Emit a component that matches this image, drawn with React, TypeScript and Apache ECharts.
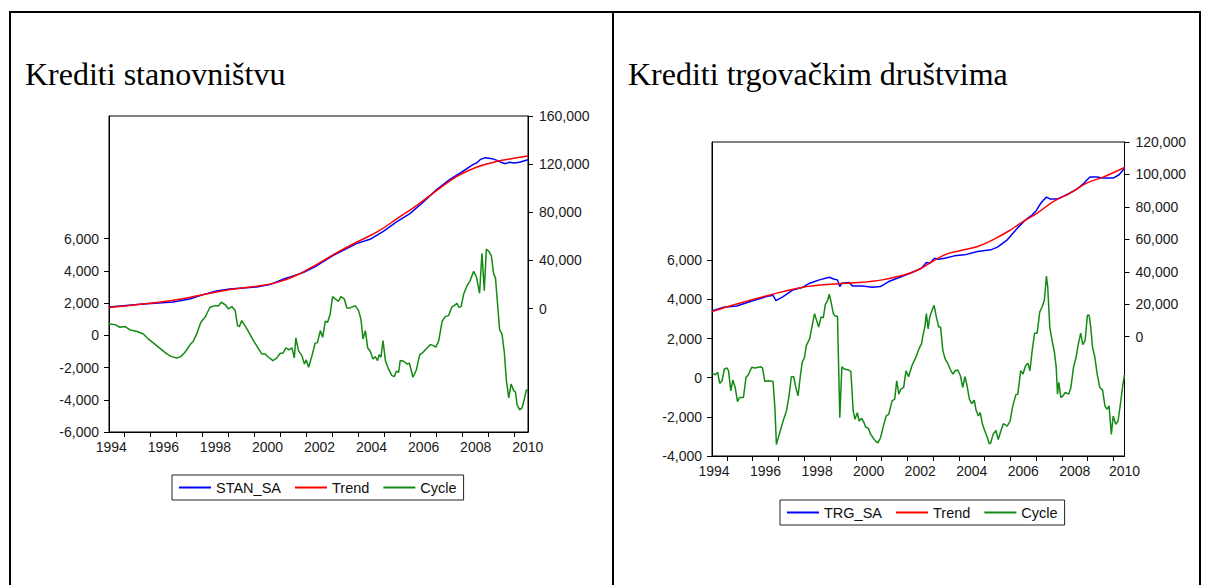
import React, { useEffect, useRef } from "react";
import * as echarts from "echarts";

// ---------- Panel 1: Krediti stanovništvu ----------
const stanTitle = "Krediti stanovništvu";
const stanNames = ["STAN_SA", "Trend", "Cycle"];
const stanYears = [1994.41, 1995.6, 1996.87, 1997.51, 1998.03, 1998.54, 1999.05, 1999.56, 2000.08, 2000.59, 2001.1, 2001.87, 2002.38, 2003.03, 2003.41, 2003.92, 2004.44, 2004.95, 2005.46, 2005.97, 2006.49, 2007.0, 2007.51, 2008.03, 2008.41, 2008.54, 2008.67, 2008.87, 2009.13, 2009.32, 2009.47, 2009.64, 2009.8, 2009.99, 2010.18, 2010.51];
const stanValues = [1380, 3600, 5540, 8030, 11630, 14670, 16330, 17160, 17990, 19930, 24360, 29900, 35430, 44290, 48440, 53980, 57570, 64220, 71970, 78890, 88580, 98820, 107400, 114320, 119850, 120960, 123730, 125390, 124560, 123170, 121510, 120410, 121510, 120960, 121510, 123730];
const stanTrendYears = [1994.41, 1995.6, 1996.88, 1997.91, 1999.06, 2000.08, 2000.85, 2001.62, 2002.4, 2003.17, 2003.94, 2004.71, 2005.48, 2006.24, 2007.01, 2007.78, 2008.55, 2009.32, 2009.96, 2010.51];
const stanTrendValues = [830, 3600, 6920, 11070, 15780, 18550, 21590, 27680, 36810, 46500, 55360, 63660, 74740, 85810, 98260, 109890, 117640, 122350, 124840, 126770];
const stanCycleYears = [1994.41, 1994.64, 1994.83, 1995.03, 1995.22, 1995.47, 1995.73, 1995.92, 1996.24, 1996.63, 1996.82, 1997.01, 1997.17, 1997.33, 1997.53, 1997.65, 1997.78, 1997.94, 1998.1, 1998.29, 1998.49, 1998.62, 1998.72, 1998.87, 1999.0, 1999.13, 1999.26, 1999.35, 1999.42, 1999.51, 1999.71, 1999.96, 2000.28, 2000.41, 2000.54, 2000.71, 2000.86, 2000.99, 2001.09, 2001.21, 2001.33, 2001.44, 2001.53, 2001.59, 2001.69, 2001.82, 2001.92, 2001.99, 2002.08, 2002.21, 2002.33, 2002.42, 2002.53, 2002.62, 2002.72, 2002.81, 2002.91, 2003.0, 2003.1, 2003.23, 2003.32, 2003.45, 2003.55, 2003.68, 2003.87, 2004.0, 2004.09, 2004.17, 2004.26, 2004.35, 2004.45, 2004.55, 2004.64, 2004.73, 2004.79, 2004.86, 2004.94, 2005.03, 2005.15, 2005.28, 2005.37, 2005.45, 2005.54, 2005.6, 2005.73, 2005.86, 2005.95, 2006.01, 2006.09, 2006.22, 2006.35, 2006.47, 2006.63, 2006.76, 2006.88, 2006.97, 2007.08, 2007.21, 2007.33, 2007.46, 2007.59, 2007.68, 2007.78, 2007.85, 2007.94, 2008.04, 2008.17, 2008.29, 2008.42, 2008.53, 2008.65, 2008.74, 2008.83, 2008.91, 2009.0, 2009.1, 2009.19, 2009.26, 2009.35, 2009.42, 2009.51, 2009.6, 2009.68, 2009.77, 2009.86, 2009.96, 2010.03, 2010.09, 2010.19, 2010.28, 2010.37, 2010.45, 2010.51];
const stanCycleValues = [703, 660, 496, 537, 330, 248, 83, -227, -641, -1158, -1324, -1406, -1324, -1055, -579, -372, 83, 806, 1117, 1737, 1840, 1820, 2047, 1903, 1634, 1778, 1530, 600, 537, 910, 393, -331, -1158, -1158, -1365, -1572, -1406, -1117, -1117, -786, -910, -786, -1406, -165, -951, -1262, -1778, -1530, -1985, -1262, -496, -455, 290, -124, 868, 806, 1323, 2399, 2254, 2109, 2399, 2254, 1696, 1696, 1840, 1530, 1013, -227, 290, -786, -993, -1468, -1324, -1572, -1199, -1365, -331, -1572, -2089, -2502, -2564, -2233, -2295, -1572, -1613, -1778, -1737, -2089, -2606, -2151, -1199, -1075, -786, -579, -641, -744, -331, 868, 1158, 1220, 1778, 1840, 1985, 1737, 1778, 2564, 3081, 3392, 3971, 3598, 2606, 5087, 2771, 5356, 5211, 4943, 3805, 3557, 1737, 331, 83, -1055, -2812, -3888, -3019, -3433, -3536, -4301, -4632, -4508, -3950, -3392, -3433];

// ---------- Panel 2: Krediti trgovačkim društvima ----------
const trgTitle = "Krediti trgovačkim društvima";
const trgNames = ["TRG_SA", "Trend", "Cycle"];
const trgYears = [1994.42, 1994.87, 1995.38, 1996.03, 1996.54, 1996.79, 1996.9, 1997.18, 1997.56, 1997.95, 1998.21, 1998.59, 1998.97, 1999.17, 1999.29, 1999.38, 1999.46, 1999.74, 1999.87, 2000.26, 2000.64, 2000.96, 2001.28, 2001.79, 2002.17, 2002.55, 2002.74, 2002.87, 2003.06, 2003.19, 2003.45, 2003.83, 2004.22, 2004.73, 2005.24, 2005.5, 2005.88, 2006.27, 2006.59, 2006.85, 2007.01, 2007.14, 2007.27, 2007.4, 2007.55, 2007.81, 2008.19, 2008.58, 2008.83, 2009.09, 2009.35, 2009.6, 2009.99, 2010.22, 2010.43];
const trgValues = [15850, 18110, 18930, 22230, 24700, 25520, 22230, 24700, 28810, 30460, 32930, 34990, 36630, 35400, 34990, 30870, 32930, 33340, 31280, 31280, 30460, 30870, 33960, 37040, 39510, 42190, 45690, 45280, 48360, 47750, 48360, 49800, 50420, 52480, 53510, 55160, 59680, 66890, 72030, 75120, 77800, 81290, 83970, 86030, 84790, 84790, 87470, 90960, 94260, 98370, 98370, 97760, 97760, 99810, 103800];
const trgTrendYears = [1994.42, 1995.38, 1996.67, 1997.95, 1999.23, 2000.13, 2001.03, 2001.75, 2002.37, 2003.45, 2004.09, 2004.73, 2005.37, 2006.01, 2006.4, 2007.04, 2007.68, 2008.32, 2008.96, 2009.6, 2010.43];
const trgTrendValues = [15435, 20170, 25725, 30460, 32520, 33340, 34990, 37500, 40750, 50420, 53100, 55570, 60090, 65860, 69970, 76150, 83350, 88490, 94670, 98370, 104300];
const trgCycleYears = [1994.42, 1994.55, 1994.64, 1994.72, 1994.81, 1994.9, 1995.0, 1995.06, 1995.15, 1995.23, 1995.32, 1995.41, 1995.49, 1995.64, 1995.74, 1995.83, 1995.96, 1996.09, 1996.31, 1996.38, 1996.47, 1996.6, 1996.79, 1996.86, 1996.92, 1997.03, 1997.18, 1997.31, 1997.41, 1997.5, 1997.59, 1997.67, 1997.76, 1997.85, 1997.92, 1998.01, 1998.08, 1998.21, 1998.31, 1998.4, 1998.46, 1998.56, 1998.65, 1998.74, 1998.82, 1998.91, 1998.97, 1999.04, 1999.13, 1999.21, 1999.29, 1999.38, 1999.46, 1999.55, 1999.72, 1999.81, 1999.9, 1999.97, 2000.06, 2000.13, 2000.23, 2000.32, 2000.38, 2000.49, 2000.58, 2000.67, 2000.77, 2000.86, 2000.96, 2001.09, 2001.18, 2001.28, 2001.41, 2001.51, 2001.59, 2001.67, 2001.74, 2001.86, 2001.95, 2002.05, 2002.18, 2002.27, 2002.36, 2002.45, 2002.55, 2002.62, 2002.68, 2002.74, 2002.81, 2002.87, 2002.96, 2003.04, 2003.13, 2003.22, 2003.29, 2003.38, 2003.47, 2003.58, 2003.68, 2003.77, 2003.86, 2003.96, 2004.06, 2004.15, 2004.24, 2004.32, 2004.41, 2004.5, 2004.6, 2004.67, 2004.76, 2004.83, 2004.92, 2005.01, 2005.12, 2005.18, 2005.24, 2005.33, 2005.44, 2005.53, 2005.63, 2005.73, 2005.88, 2005.99, 2006.08, 2006.21, 2006.29, 2006.4, 2006.49, 2006.59, 2006.68, 2006.76, 2006.85, 2006.94, 2007.04, 2007.14, 2007.23, 2007.32, 2007.4, 2007.45, 2007.53, 2007.62, 2007.71, 2007.78, 2007.83, 2007.88, 2007.96, 2008.04, 2008.13, 2008.26, 2008.35, 2008.45, 2008.55, 2008.64, 2008.73, 2008.81, 2008.9, 2008.99, 2009.06, 2009.12, 2009.19, 2009.28, 2009.37, 2009.47, 2009.58, 2009.67, 2009.76, 2009.83, 2009.92, 2009.99, 2010.09, 2010.18, 2010.27, 2010.37, 2010.43];
const trgCycleValues = [223, 154, 274, -291, -154, 446, 497, 360, -668, -120, -497, -1217, -1011, -1011, 17, 154, 531, 497, 566, 497, -189, -154, -189, -1525, -3411, -2897, -2211, -1697, -926, 51, 51, -497, -926, 103, 788, 1046, 1645, 1988, 2674, 3274, 3017, 2588, 3102, 3068, 3754, 3959, 4268, 3874, 3274, 3137, 3137, -2040, 566, 446, 394, 326, -1697, -2125, -1783, -2211, -2074, -2297, -2520, -2588, -2897, -3068, -3239, -3325, -3068, -2383, -1954, -1868, -1183, -1097, -154, -840, -600, -497, 360, 51, 617, 874, 1131, 1474, 1731, 2245, 2588, 3274, 2502, 3102, 3445, 3702, 3102, 2588, 2588, 1388, 960, 703, 394, 189, 360, 394, 103, -497, 51, -411, -1097, -1320, -1148, -1663, -1954, -1783, -2383, -2725, -3102, -3377, -3325, -2897, -2691, -3154, -2725, -2348, -2468, -2211, -1525, -874, -840, 360, 189, 617, 737, 360, 1423, 2280, 2280, 3359, 3617, 3959, 5193, 4645, 2588, 1903, 1303, 531, -840, -240, -1011, -926, -754, -840, -497, 531, 1046, 1731, 2280, 1697, 1903, 3188, 3188, 2588, 1560, 1046, 189, -497, -634, -1440, -1611, -1440, -2897, -1954, -2383, -2211, -1354, -326, 150];

// ---------- Axis tick labels ----------
const yearLabels = [1994, 1996, 1998, 2000, 2002, 2004, 2006, 2008, 2010];
const yearTicks = [1995, 1996, 1997, 1998, 1999, 2000, 2001, 2002, 2003, 2004, 2005, 2006, 2007, 2008, 2009, 2010];
const stanCycleTicks = [-6000, -4000, -2000, 0, 2000, 4000, 6000];
const stanLevelTicks = [0, 40000, 80000, 120000, 160000];
const trgCycleTicks = [-4000, -2000, 0, 2000, 4000, 6000];
const trgLevelTicks = [0, 20000, 40000, 60000, 80000, 100000, 120000];

const seriesColors = ["#0000ff", "#ff0000", "#138a13"];

const zip = (xs: number[], ys: number[]) => xs.map((x, i) => [x, ys[i]]);
const fmt = (v: number) => Number(v).toLocaleString("en-US");
const SANS = "'Liberation Sans', Arial, Helvetica, sans-serif";
const SERIF = "'Liberation Serif', 'Times New Roman', serif";
const labelStyle = { color: "#1a1a1a", fontFamily: SANS, fontSize: 14 };

function xAxisFor(gridIndex: number, min: number, max: number) {
  return {
    type: "value",
    gridIndex,
    min,
    max,
    axisLine: { show: true, onZero: false, lineStyle: { color: "#000", width: 1 } },
    axisTick: { show: true, length: 5, customValues: yearTicks.filter((t) => t > min && t < max), lineStyle: { color: "#000" } },
    axisLabel: {
      ...labelStyle,
      margin: 8,
      customValues: yearLabels.map((y) => Math.min(y + 0.5, max)),
      formatter: (v: number) => String(Math.floor(v)),
    },
    splitLine: { show: false },
  };
}

function yAxisFor(gridIndex: number, position: string, min: number, max: number, ticks: number[], margin: number) {
  return {
    type: "value",
    gridIndex,
    position,
    min,
    max,
    axisLine: { show: true, onZero: false, lineStyle: { color: "#000", width: 1 } },
    axisTick: { show: true, length: 5, customValues: ticks, lineStyle: { color: "#000" } },
    axisLabel: { ...labelStyle, margin, customValues: ticks, formatter: (v: number) => fmt(v) },
    splitLine: { show: false },
  };
}

// series ids are prefixed by panel so that the two legends stay independent
const sid = (panel: string, name: string) => `${panel}|${name}`;

function lineSeries(name: string, xi: number, yi: number, data: number[][], color: string, smooth: boolean | number = false) {
  return {
    type: "line",
    name,
    xAxisIndex: xi,
    yAxisIndex: yi,
    data,
    showSymbol: false,
    symbol: "none",
    smooth,
    lineStyle: { color, width: 1.5 },
    itemStyle: { color },
    z: 3,
  };
}

function legendFor(left: number, top: number, panel: string, names: string[]) {
  return {
    left,
    top,
    orient: "horizontal",
    data: names.map((n, i) => ({ name: sid(panel, n), icon: "rect", itemStyle: { color: seriesColors[i], borderWidth: 0 } })),
    formatter: (n: string) => n.split("|")[1],
    icon: "rect",
    itemWidth: 32,
    itemHeight: 2,
    itemGap: 14,
    padding: [5, 7, 5, 7],
    borderColor: "#222",
    borderWidth: 1,
    selectedMode: false,
    textStyle: { color: "#111", fontFamily: SANS, fontSize: 14.5 },
  };
}

export default function App() {
  const ref = useRef<HTMLDivElement>(null);
  useEffect(() => {
    if (!ref.current) return;
    const chart = echarts.init(ref.current, null, { renderer: "svg" });
    const p1min = 1994.41, p1max = 2010.51;
    const p2min = 1994.42, p2max = 2010.43;
    const option: any = {
      animation: false,
      backgroundColor: "#fff",
      grid: [
        { left: 109, top: 116, width: 419, height: 316, show: true, borderColor: "#000", borderWidth: 1, backgroundColor: "transparent", outerBoundsMode: "none", containLabel: false },
        { left: 712, top: 142, width: 412.5, height: 314, show: true, borderColor: "#000", borderWidth: 1, backgroundColor: "transparent", outerBoundsMode: "none", containLabel: false },
      ],
      xAxis: [xAxisFor(0, p1min, p1max), xAxisFor(1, p2min, p2max)],
      yAxis: [
        yAxisFor(0, "left", -6000, 13600, stanCycleTicks, 10),
        yAxisFor(0, "right", -102500, 160000, stanLevelTicks, 11),
        yAxisFor(1, "left", -4000, 12050, trgCycleTicks, 10),
        yAxisFor(1, "right", -73600, 120000, trgLevelTicks, 11),
      ],
      legend: [legendFor(172, 475, "A", stanNames), legendFor(780, 500, "B", trgNames)],
      series: [
        lineSeries(sid("A", stanNames[0]), 0, 1, zip(stanYears, stanValues), seriesColors[0]),
        lineSeries(sid("A", stanNames[1]), 0, 1, zip(stanTrendYears, stanTrendValues), seriesColors[1], 0.4),
        lineSeries(sid("A", stanNames[2]), 0, 0, zip(stanCycleYears, stanCycleValues), seriesColors[2]),
        lineSeries(sid("B", trgNames[0]), 1, 3, zip(trgYears, trgValues), seriesColors[0]),
        lineSeries(sid("B", trgNames[1]), 1, 3, zip(trgTrendYears, trgTrendValues), seriesColors[1], 0.4),
        lineSeries(sid("B", trgNames[2]), 1, 2, zip(trgCycleYears, trgCycleValues), seriesColors[2]),
      ],
      graphic: [
        { type: "line", shape: { x1: 9, y1: 12, x2: 1201, y2: 12 }, style: { stroke: "#000", lineWidth: 2 } },
        { type: "line", shape: { x1: 10, y1: 12, x2: 10, y2: 585 }, style: { stroke: "#000", lineWidth: 2 } },
        { type: "line", shape: { x1: 613, y1: 12, x2: 613, y2: 585 }, style: { stroke: "#000", lineWidth: 2 } },
        { type: "line", shape: { x1: 1200, y1: 12, x2: 1200, y2: 585 }, style: { stroke: "#000", lineWidth: 2 } },
        { type: "text", x: 25, y: 74, style: { text: stanTitle, font: `32px ${SERIF}`, fill: "#000", verticalAlign: "middle" } },
        { type: "text", x: 628, y: 74, style: { text: trgTitle, font: `32px ${SERIF}`, fill: "#000", verticalAlign: "middle" } },
      ],
    };
    chart.setOption(option);
    return () => chart.dispose();
  }, []);
  return <div ref={ref} style={{ position: "fixed", left: 0, top: 0, width: 1205, height: 585, background: "#fff" }} />;
}
